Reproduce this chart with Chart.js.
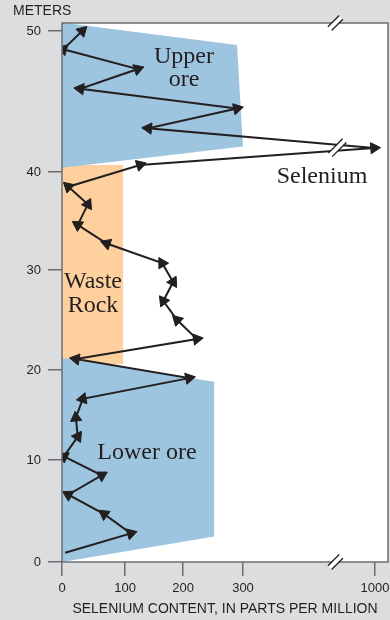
<!DOCTYPE html>
<html>
  <head>
    <title>Selenium content with depth</title>
    <script src="https://cdn.jsdelivr.net/npm/chart.js"></script>
    <style>
      html, body { margin: 0; padding: 0; background: #dcdddf; }
    </style>
  </head>

  <body>
    <canvas id="seChart" width="390" height="620"></canvas>
    <script>
      // samples, from the bottom of the section to the top
      var depthMeters = [0.9, 2.8, 4.7, 6.6, 8.5, 10.4, 12.6, 14.7, 16.8, 19.1, 21.1, 23.1, 25.0, 26.9,
        28.8, 30.7, 32.7, 34.6, 36.7, 38.5, 40.5, 41.7, 43.1, 44.5, 45.9, 47.3, 48.7, 50.0];
      var seleniumPpm = [5, 110, 67, 10, 63, 3, 25, 22, 33, 210, 22, 223, 190, 166,
        183, 164, 71, 25, 41, 10, 126, 995, 140, 290, 29, 122, 2, 32];

      var yTicks = [0, 10, 20, 30, 40, 50];
      var xTicks = [0, 100, 200, 300, 1000];

      // zones behind the curve (ppm, meters)
      var upperOreX = [0, 290, 300, 0];
      var upperOreY = [50.6, 49.0, 41.8, 40.3];
      var wasteRockX = [0, 97, 97, 0];
      var wasteRockY = [40.5, 40.5, 20.6, 20.6];
      var lowerOreX = [0, 252, 252, 0];
      var lowerOreY = [21.2, 18.7, 2.5, 0];

      var ink = "#231f20";
      var axisGray = "#6d6e71";

      // linear scale drawn piece by piece, so the broken axes of the figure fit
      class KnotScale extends Chart.LinearScale {
        getPixelForValue(value) {
          var k = this.options.knots;
          var d = 0;
          for (var i = 1; i < k.length; i++) {
            if (value <= k[i][0] || i === k.length - 1) {
              d = k[i - 1][1] + (value - k[i - 1][0]) / (k[i][0] - k[i - 1][0]) * (k[i][1] - k[i - 1][1]);
              break;
            }
          }
          return this.getPixelForDecimal(d);
        }
        getValueForPixel(pixel) {
          var k = this.options.knots;
          var d = this.getDecimalForPixel(pixel);
          for (var i = 1; i < k.length; i++) {
            if (d <= k[i][1] || i === k.length - 1) {
              return k[i - 1][0] + (d - k[i - 1][1]) / (k[i][1] - k[i - 1][1]) * (k[i][0] - k[i - 1][0]);
            }
          }
        }
        _calculatePadding() {
          this.paddingLeft = this.paddingRight = this.paddingTop = this.paddingBottom = 0;
        }
      }
      KnotScale.id = "knots";
      KnotScale.defaults = Chart.LinearScale.defaults;
      Chart.register(KnotScale);

      // big markers would otherwise push the plot in from the right edge
      Chart.ScatterController.prototype.getMaxOverflow = function () { return 0; };

      function zone(xs, ys, color) {
        return {
          data: xs.map(function (x, i) { return { x: x, y: ys[i] }; }),
          showLine: true,
          fill: "shape",
          backgroundColor: color,
          borderColor: "transparent",
          borderWidth: 0,
          pointRadius: 0,
          pointHoverRadius: 0,
        };
      }

      function breakMark(ctx, x, y, len) {
        ctx.save();
        ctx.translate(x, y);
        ctx.rotate(-Math.PI / 4);
        ctx.fillStyle = "#fff";
        ctx.fillRect(-len / 2, -2.6, len, 5.2);
        ctx.strokeStyle = ink;
        ctx.lineWidth = 1.3;
        ctx.beginPath();
        ctx.moveTo(-len / 2, -2.6);
        ctx.lineTo(len / 2, -2.6);
        ctx.moveTo(-len / 2, 2.6);
        ctx.lineTo(len / 2, 2.6);
        ctx.stroke();
        ctx.restore();
      }

      // y pixel of segment i-1 -> i at pixel column px
      function yOnSegment(xs, ys, i, px) {
        var x0 = xs.getPixelForValue(seleniumPpm[i - 1]), x1 = xs.getPixelForValue(seleniumPpm[i]);
        var y0 = ys.getPixelForValue(depthMeters[i - 1]), y1 = ys.getPixelForValue(depthMeters[i]);
        return y0 + (px - x0) / (x1 - x0) * (y1 - y0);
      }

      var overlay = {
        id: "overlay",
        beforeDraw: function (chart) {
          var ctx = chart.ctx, a = chart.chartArea;
          ctx.save();
          ctx.fillStyle = "#dcdddf";
          ctx.fillRect(0, 0, chart.width, chart.height);
          ctx.fillStyle = "#fff";
          ctx.fillRect(a.left, a.top, a.right - a.left, a.bottom - a.top);
          ctx.restore();
        },
        afterDatasetsDraw: function (chart) {
          var ctx = chart.ctx, a = chart.chartArea;
          var xs = chart.scales.x, ys = chart.scales.y;
          ctx.save();
          ctx.strokeStyle = axisGray;
          ctx.lineWidth = 1.5;
          ctx.strokeRect(a.left, a.top, a.right - a.left, a.bottom - a.top);

          // breaks in the ppm axis
          var xb = xs.getPixelForValue(790);
          breakMark(ctx, xb, a.top, 16);
          breakMark(ctx, xb, a.bottom, 16);
          var yb = (yOnSegment(xs, ys, 21, xb + 2) + yOnSegment(xs, ys, 22, xb + 2)) / 2;
          breakMark(ctx, xb + 2, yb, 20);

          ctx.fillStyle = ink;
          ctx.font = '24px "Liberation Serif", "Times New Roman", serif';
          ctx.textAlign = "center";
          ctx.textBaseline = "alphabetic";
          ctx.fillText("Upper", 184, 63);
          ctx.fillText("ore", 184, 86);
          ctx.fillText("Selenium", 322, 183);
          ctx.fillText("Waste", 93, 288);
          ctx.fillText("Rock", 93, 312);
          ctx.fillText("Lower ore", 147, 459);

          ctx.font = '14px "Liberation Sans", Arial, sans-serif';
          ctx.textAlign = "left";
          ctx.fillText("METERS", 13, 15);
          ctx.restore();
        },
      };

      var ctx = document.getElementById("seChart").getContext("2d");
      var seChart = new Chart(ctx, {
        type: "scatter",
        data: {
          datasets: [
            {
              label: "Selenium",
              data: depthMeters.map(function (d, i) { return { x: seleniumPpm[i], y: d }; }),
              showLine: true,
              borderColor: ink,
              borderWidth: 2,
              tension: 0,
              backgroundColor: ink,
              pointBackgroundColor: ink,
              pointBorderColor: ink,
              pointBorderWidth: 1,
              pointStyle: "triangle",
              pointRadius: function (c) { return c.dataIndex === 0 ? 0 : 6.5; },
              pointRotation: function (c) {
                var i = c.dataIndex;
                if (i === 0) return 0;
                var sx = c.chart.scales.x, sy = c.chart.scales.y;
                var dx = sx.getPixelForValue(seleniumPpm[i]) - sx.getPixelForValue(seleniumPpm[i - 1]);
                var dy = sy.getPixelForValue(depthMeters[i]) - sy.getPixelForValue(depthMeters[i - 1]);
                return Math.atan2(dy, dx) * 180 / Math.PI + 90;
              },
            },
            zone(upperOreX, upperOreY, "#9ec5df"),
            zone(lowerOreX, lowerOreY, "#9ec5df"),
            zone(wasteRockX, wasteRockY, "#fdd09e"),
          ],
        },
        options: {
          responsive: false,
          devicePixelRatio: 1,
          animation: false,
          layout: { padding: { top: 23, right: 2, left: 0, bottom: 0 } },
          plugins: { legend: { display: false }, tooltip: { enabled: false } },
          scales: {
            x: {
              type: "knots",
              min: 0,
              max: 1040,
              knots: [[0, 0], [100, 0.1933], [200, 0.3712], [300, 0.5552], [1000, 0.9601], [1040, 1]],
              afterBuildTicks: function (s) { s.ticks = xTicks.map(function (v) { return { value: v }; }); },
              afterFit: function (s) { s.height = 58; },
              border: { display: false },
              grid: { drawOnChartArea: false, drawTicks: true, tickLength: 14, color: axisGray, lineWidth: 1.5 },
              ticks: {
                autoSkip: false,
                maxRotation: 0,
                padding: 5,
                color: ink,
                font: { family: '"Liberation Sans", Arial, sans-serif', size: 13 },
                callback: function (v) { return String(v); },
              },
              title: {
                display: true,
                text: "SELENIUM CONTENT, IN PARTS PER MILLION",
                color: ink,
                font: { family: '"Liberation Sans", Arial, sans-serif', size: 14 },
                padding: { top: 0, bottom: 2 },
              },
            },
            y: {
              type: "knots",
              min: 0,
              max: 50.57,
              knots: [[0, 0], [10, 0.1892], [20, 0.3562], [30, 0.5417], [40, 0.7236], [50, 0.9852], [50.57, 1]],
              afterBuildTicks: function (s) { s.ticks = yTicks.map(function (v) { return { value: v }; }); },
              afterFit: function (s) { s.width = 62; },
              border: { display: false },
              grid: { drawOnChartArea: false, drawTicks: true, tickLength: 14, color: axisGray, lineWidth: 1.5 },
              ticks: {
                padding: 7,
                color: ink,
                font: { family: '"Liberation Sans", Arial, sans-serif', size: 13 },
                callback: function (v) { return String(v); },
              },
            },
          },
        },
        plugins: [overlay],
      });
    </script>
  </body>
</html>
